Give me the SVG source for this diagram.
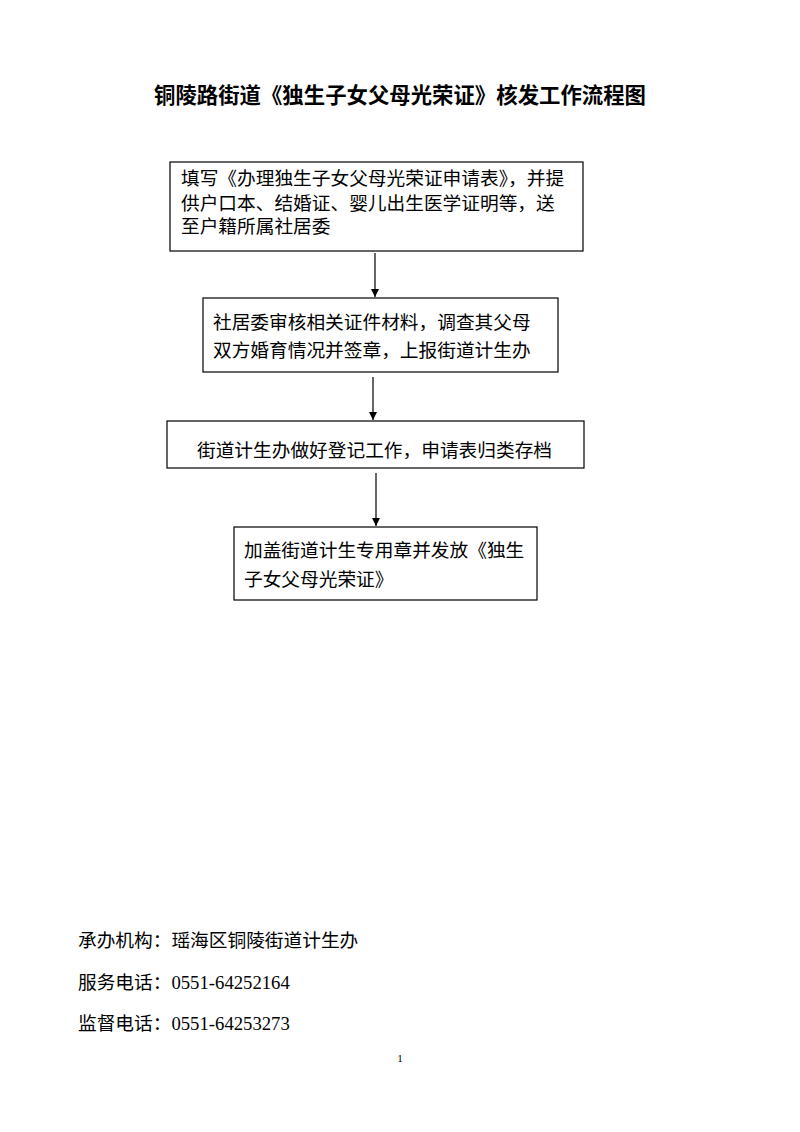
<svg xmlns="http://www.w3.org/2000/svg" width="800" height="1132" viewBox="0 0 800 1132">
<style>
text{font-family:"Liberation Serif","Noto Sans CJK SC",serif;fill:#000}
.t{font-size:18.7px}
.box{fill:#fff;stroke:#000;stroke-width:1.2}
.c{stroke:#000;stroke-width:1.2;fill:none}
</style>
<defs>
<marker id="ah" markerWidth="8" markerHeight="8" refX="8" refY="4" orient="auto" markerUnits="userSpaceOnUse">
<path d="M0,0 L8,4 L0,8 Z" fill="#000"/>
</marker>
</defs>
<rect width="800" height="1132" fill="#fff"/>
<text x="400" y="103" text-anchor="middle" font-size="21.4" font-weight="bold" style="font-family:'Noto Sans CJK SC',sans-serif">铜陵路街道《独生子女父母光荣证》核发工作流程图</text>
<g id="connectors">
<line class="c" x1="375" y1="253" x2="375" y2="297" marker-end="url(#ah)"/>
<line class="c" x1="373" y1="377" x2="373" y2="420" marker-end="url(#ah)"/>
<line class="c" x1="376" y1="473" x2="376" y2="526" marker-end="url(#ah)"/>
</g>
<g id="n1">
<rect class="box" x="170" y="162" width="413" height="89"/>
<text class="t" x="181" y="185">填写《办理独生子女父母光荣证申请表》，并提</text>
<text class="t" x="181" y="210">供户口本、结婚证、婴儿出生医学证明等，送</text>
<text class="t" x="181" y="233">至户籍所属社居委</text>
</g>
<g id="n2">
<rect class="box" x="203" y="298" width="355" height="74"/>
<text class="t" x="213" y="329">社居委审核相关证件材料，调查其父母</text>
<text class="t" x="213" y="357">双方婚育情况并签章，上报街道计生办</text>
</g>
<g id="n3">
<rect class="box" x="167" y="421" width="417" height="47"/>
<text class="t" x="197" y="457">街道计生办做好登记工作，申请表归类存档</text>
</g>
<g id="n4">
<rect class="box" x="234" y="527" width="303" height="73"/>
<text class="t" x="244" y="557">加盖街道计生专用章并发放《独生</text>
<text class="t" x="244" y="586">子女父母光荣证》</text>
</g>
<g id="footer">
<text class="t" x="78" y="947">承办机构：瑶海区铜陵街道计生办</text>
<text class="t" x="78" y="989">服务电话：0551-64252164</text>
<text class="t" x="78" y="1030">监督电话：0551-64253273</text>
<text x="400" y="1062" text-anchor="middle" font-size="11">1</text>
</g>
</svg>
